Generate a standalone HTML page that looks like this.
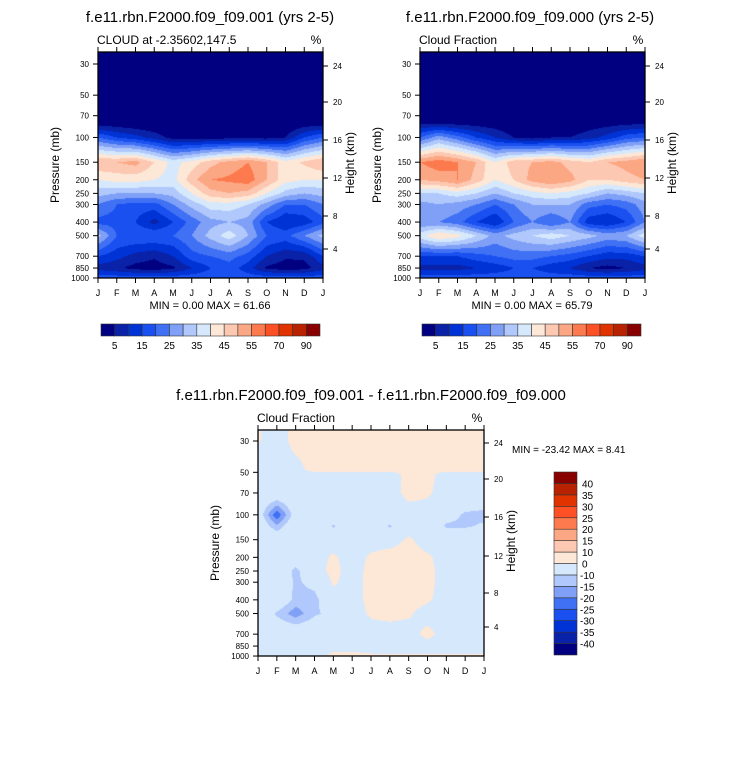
<!DOCTYPE html>
<html><head><meta charset="utf-8">
<style>
body{margin:0;background:#fff;width:733px;height:766px;overflow:hidden;position:relative;font-family:"Liberation Sans",sans-serif}
canvas{position:absolute;left:0;top:0}
svg{position:absolute;left:0;top:0}
</style></head>
<body>
<canvas id="cv" width="733" height="766"></canvas>
<svg id="sv" width="733" height="766"></svg>
<script>
const months = ["J","F","M","A","M","J","J","A","S","O","N","D","J"];
const pLevels = [30,50,70,80,100,150,200,250,300,400,500,700,850,1000];
const pTicks = [30,50,70,100,150,200,250,300,400,500,700,850,1000];
const hTicks = [24,20,16,12,8,4];
const cloud001 = [
[0,0,0,0,0,0,0,0,0,0,0,0,0],
[0,0,0,0,0,0,0,0,0,0,0,0,0],
[0,0,0,0,0,0,0,0,0,0,0,0,0],
[3,2,1,0,0,0,0,0,0,0,0,2,3],
[20,15,12,8,3,3,3,3,3,3,5,15,20],
[50,50,52,45,38,42,48,52,55,50,42,46,50],
[40,42,42,40,38,48,55,56,58,50,42,40,40],
[32,30,30,30,32,40,48,50,48,40,33,30,32],
[25,20,18,18,25,32,38,38,35,28,20,20,25],
[18,18,15,8,15,22,28,30,28,15,10,12,18],
[32,20,20,20,20,25,32,38,30,20,18,25,32],
[15,12,8,6,10,18,20,22,18,10,6,6,15],
[8,6,3,2,4,10,15,18,12,4,2,3,8],
[18,18,18,18,18,18,18,18,18,18,18,18,18]];
const cloud000 = [
[0,0,0,0,0,0,0,0,0,0,0,0,0],
[0,0,0,0,0,0,0,0,0,0,0,0,0],
[0,0,0,0,0,0,0,0,0,0,0,0,0],
[5,5,4,3,2,0,0,0,0,2,3,4,5],
[20,28,22,15,10,5,3,5,5,8,12,18,20],
[55,58,55,50,40,48,50,52,48,45,50,52,55],
[50,52,55,48,40,45,52,55,52,45,45,48,50],
[35,35,38,35,30,35,38,40,38,35,30,32,35],
[28,30,28,25,20,25,30,30,30,22,20,22,28],
[25,25,22,15,10,20,25,20,25,12,10,15,25],
[38,45,42,35,28,32,35,38,35,32,28,30,38],
[15,15,15,18,20,22,22,20,18,15,12,12,15],
[8,8,8,10,12,15,15,12,10,5,3,5,8],
[18,18,18,18,18,18,18,18,18,18,18,18,18]];
const diffP = [30,48,52,70,100,120,150,200,250,300,400,500,700,850,1000];
const cloudDiff = [
[0.5,-3,2,2,2,2,2,2,2,2,2,2,2],
[-3,-3,-2,2,2,2,2,2,2,2,2,2,2],
[-3,-3,-3,-3,-3,-3,-3,-3,2,2,-3,-3,-3],
[-3,-3,-3,-3,-3,-3,-3,-3,2,1,-3,-3,-3],
[-5,-24,-6,-3,-3,-3,-3,-3,-3,-3,-7,-11,-12],
[-3,-14,-3,-3,-11,-3,-3,-11,-3,-3,-11,-11,-9],
[-3,-3,-3,-3,-3,-3,-3,-3,1,-3,-3,-3,-3],
[-3,-3,-5,-3,1,-3,1,3,3,1,-3,-3,-3],
[-3,-3,-12,-3,2,-3,2,3,3,2,-3,-3,-3],
[-3,-3,-11,-8,1,-3,2,3,3,2,-3,-3,-3],
[-3,-3,-12,-12,-3,-3,2,3,3,1,-3,-3,-3],
[-3,-11,-18,-11,-8,-3,1,2,1,-3,-3,-3,-3],
[-3,-3,-3,-3,-3,-3,-3,-3,-3,2,-3,-3,-3],
[-3,-3,-3,-3,-3,-3,-3,-3,-3,-3,-3,-3,-3],
[-3,-3,-3,-3,2,2,1,1,1,1,1,1,1]];
const absLevels = [5,10,15,20,25,30,35,40,45,50,55,60,70,80,90];
const absLabels = ["5","15","25","35","45","55","70","90"];
const diffLevels = [-40,-35,-30,-25,-20,-15,-10,0,10,15,20,25,30,35,40];
const palette = ["#000080","#0a22a8","#0033d6","#1a50f0","#4070f4","#7fa0f6","#b0c8fb","#d6e8fc","#fde7d6","#fcc8b2","#fca783","#fc7a4d","#fd5024","#e03300","#b82200","#880000"];

const ns="http://www.w3.org/2000/svg";
const sv=document.getElementById('sv');
const ctx=document.getElementById('cv').getContext('2d');
function el(tag,attrs,parent){const e=document.createElementNS(ns,tag);for(const k in attrs)e.setAttribute(k,attrs[k]);(parent||sv).appendChild(e);return e;}
function txt(s,x,y,size,anchor,parent,name){const t=el('text',{x:x,y:y,'font-size':size,'text-anchor':anchor||'start','font-family':'"Liberation Sans",sans-serif',fill:'#000'},parent);t.textContent=s;


return t;}
function colorFor(v,levels){let i=0;while(i<levels.length&&v>=levels[i])i++;return palette[i];}

function drawPanel(P){
  const g=el('g',{});
  
  
  const xS=m=>P.x0+m*(P.x1-P.x0)/12;
  const yS=p=>P.y30+(Math.log10(p)-Math.log10(30))*P.k;
  const lp=P.plev.map(p=>Math.log10(p));
  for(let py=P.y0;py<P.y1;py++){
    let L=Math.log10(30)+(py+0.5-P.y30)/P.k;
    let j=0; while(j<lp.length-2&&L>lp[j+1])j++;
    let ty=(L-lp[j])/(lp[j+1]-lp[j]); ty=Math.max(0,Math.min(1,ty));
    for(let px=P.x0;px<P.x1;px++){
      let mx=(px+0.5-P.x0)/(P.x1-P.x0)*12; let i=Math.min(11,Math.floor(mx)); let tx=mx-i;
      const d=P.data;
      const v=(1-ty)*((1-tx)*d[j][i]+tx*d[j][i+1])+ty*((1-tx)*d[j+1][i]+tx*d[j+1][i+1]);
      ctx.fillStyle=colorFor(v,P.levels);ctx.fillRect(px,py,1,1);
    }
  }
  el('rect',{x:P.x0,y:P.y0,width:P.x1-P.x0,height:P.y1-P.y0,fill:'none',stroke:'#000','stroke-width':1.3},g);
  months.forEach((m,i)=>{const x=xS(i);
    el('line',{x1:x,y1:P.y0,x2:x,y2:P.y0-5,stroke:'#000'},g);
    el('line',{x1:x,y1:P.y1,x2:x,y2:P.y1+5,stroke:'#000'},g);
    txt(m,x,P.y1+18,9,'middle',g,'month-tick-label');});
  pTicks.forEach(p=>{const y=yS(p);
    el('line',{x1:P.x0,y1:y,x2:P.x0-5,y2:y,stroke:'#000'},g);
    txt(String(p),P.x0-9,y+3,8,'end',g,'pressure-tick-label');});
  hTicks.forEach((h,i)=>{const y=P.hy[i];
    el('line',{x1:P.x1,y1:y,x2:P.x1+5,y2:y,stroke:'#000'},g);
    txt(String(h),P.x1+10,y+3,8,'start',g,'height-tick-label');});
  txt(P.sub,P.x0-1,P.y0-8,12,'start',g,'panel-subtitle');
  txt('%',P.x1-7,P.y0-8,12,'middle',g,'units-label');
  const a=txt('Pressure (mb)',0,0,12,'middle',g,'y-axis-title');a.setAttribute('transform',`translate(${P.x0-39},${(P.y0+P.y1)/2}) rotate(-90)`);
  const b=txt('Height (km)',0,0,12,'middle',g,'y2-axis-title');b.setAttribute('transform',`translate(${P.x1+31},${(P.y0+P.y1)/2-2}) rotate(-90)`);
}
const hyTop=[66,102,140,178,216,249];
drawPanel({name:'panel-001',x0:98,x1:323,y0:52,y1:278,y30:64,k:140.5,plev:pLevels,data:cloud001,levels:absLevels,hy:hyTop,sub:'CLOUD at -2.35602,147.5'});
drawPanel({name:'panel-000',x0:420,x1:645,y0:52,y1:278,y30:64,k:140.5,plev:pLevels,data:cloud000,levels:absLevels,hy:hyTop,sub:'Cloud Fraction'});
drawPanel({name:'panel-diff',x0:258,x1:484,y0:430,y1:656,y30:441,k:141.2,plev:diffP,data:cloudDiff,levels:diffLevels,hy:[443,479,517,556,593,627],sub:'Cloud Fraction'});

txt('f.e11.rbn.F2000.f09_f09.001 (yrs 2-5)',210,22,15,'middle',sv,'title-left');
txt('f.e11.rbn.F2000.f09_f09.000 (yrs 2-5)',530,22,15,'middle',sv,'title-right');
txt('f.e11.rbn.F2000.f09_f09.001 - f.e11.rbn.F2000.f09_f09.000',371,400,15,'middle',sv,'title-diff');
txt('MIN =   0.00 MAX =  61.66',210,309,11,'middle',sv,'minmax-left');
txt('MIN =   0.00 MAX =  65.79',532,309,11,'middle',sv,'minmax-right');
txt('MIN = -23.42 MAX =   8.41',512,453,10,'start',sv,'minmax-diff');

function hbar(x0,x1,y0,y1,name){
  const g=el('g',{});
  
  
  const w=(x1-x0)/16;
  palette.forEach((c,i)=>{const r=el('rect',{x:x0+i*w,y:y0,width:w,height:y1-y0,fill:c,stroke:'#333','stroke-width':0.6},g);
    
    });
  absLabels.forEach((s,i)=>txt(s,x0+(2*i+1)*w,y1+13,10,'middle',g,'colorbar-label'));
}
hbar(101,320,324,336,'colorbar-left');
hbar(422,641,324,336,'colorbar-right');
(function(){
  const g=el('g',{});
  
  
  const x0=554,x1=577,y0=472,y1=655,h=(y1-y0)/16;
  palette.forEach((c,i)=>{const r=el('rect',{x:x0,y:y1-(i+1)*h,width:x1-x0,height:h,fill:c,stroke:'#333','stroke-width':0.6},g);
    
    });
  diffLevels.forEach((v,i)=>txt(String(v),v<0?x1+3:x1+5,y1-(i+1)*h+4,10,'start',g,'colorbar-label'));
})();
</script>
</body></html>
